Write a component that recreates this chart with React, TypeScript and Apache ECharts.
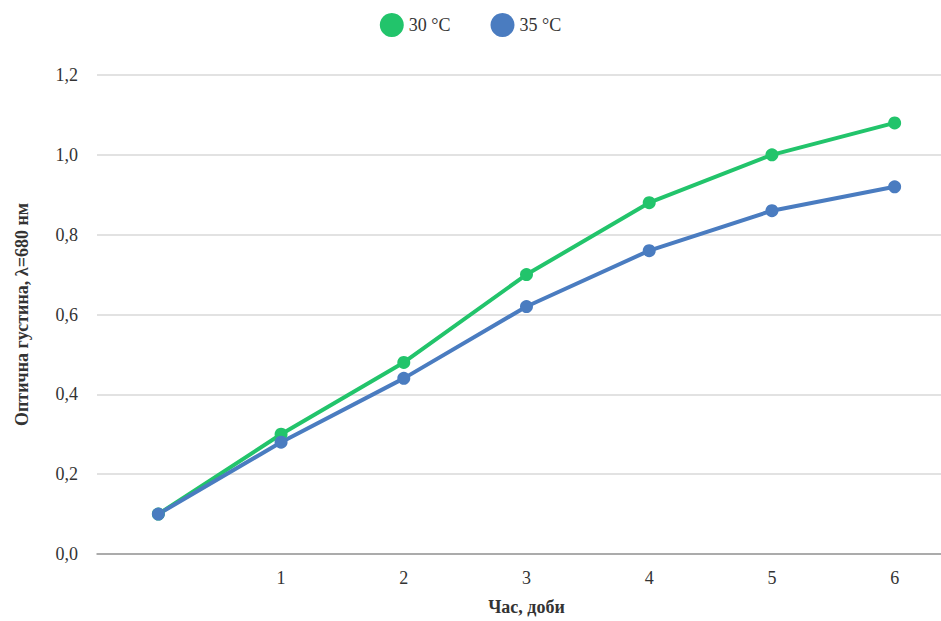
import React, { useEffect, useRef } from "react";
import * as echarts from "echarts";

const categories = ["0", "1", "2", "3", "4", "5", "6"];
const series30 = [0.1, 0.3, 0.48, 0.7, 0.88, 1.0, 1.08];
const series35 = [0.1, 0.28, 0.44, 0.62, 0.76, 0.86, 0.92];
const seriesNames = ["30 °C", "35 °C"];
const colors = ["#22c46b", "#4a7cc0"];

export default function App() {
  const ref = useRef<HTMLDivElement>(null);
  useEffect(() => {
    if (!ref.current) return;
    const chart = echarts.init(ref.current, null, { renderer: "svg" });
    const font = "Liberation Serif, Times New Roman, serif";
    chart.setOption({
      animation: false,
      textStyle: { fontFamily: font },
      legend: {
        top: 8,
        left: "center",
        itemWidth: 24,
        itemHeight: 24,
        itemGap: 40,
        icon: "circle",
        textStyle: { fontFamily: font, fontSize: 18, color: "#333" },
        data: seriesNames,
      },
      grid: { left: 97, top: 75, width: 859, height: 479, outerBoundsMode: "none", containLabel: false },
      xAxis: {
        type: "category",
        data: categories,
        boundaryGap: true,
        axisLine: { show: true, lineStyle: { color: "#999", width: 1.5 } },
        axisTick: { show: false },
        axisLabel: {
          fontFamily: font,
          fontSize: 18,
          color: "#333",
          margin: 15,
          formatter: (v: string) => (v === "0" ? "" : v),
        },
        name: "Час, доби",
        nameLocation: "middle",
        nameGap: 44,
        nameTextStyle: { fontFamily: font, fontSize: 18, fontWeight: "bold", color: "#333" },
      },
      yAxis: {
        type: "value",
        min: 0,
        max: 1.2,
        interval: 0.2,
        axisLine: { show: false },
        axisTick: { show: false },
        splitLine: { lineStyle: { color: "#d9d9d9", width: 1.5 } },
        axisLabel: {
          fontFamily: font,
          fontSize: 18,
          color: "#333",
          margin: 19,
          formatter: (v: number) => v.toFixed(1).replace(".", ","),
        },
        name: "Оптична густина, λ=680 нм",
        nameLocation: "middle",
        nameGap: 66,
        nameTextStyle: { fontFamily: font, fontSize: 18, fontWeight: "bold", color: "#333" },
      },
      series: [
        {
          name: seriesNames[0],
          type: "line",
          data: series30,
          symbol: "circle",
          symbolSize: 13,
          lineStyle: { width: 4, color: colors[0] },
          itemStyle: { color: colors[0] },
        },
        {
          name: seriesNames[1],
          type: "line",
          data: series35,
          symbol: "circle",
          symbolSize: 13,
          lineStyle: { width: 4, color: colors[1] },
          itemStyle: { color: colors[1] },
        },
      ],
    });
    return () => chart.dispose();
  }, []);
  return (
    <div
      ref={ref}
      style={{ position: "fixed", left: 0, top: 0, width: 941, height: 621, background: "#fff" }}
    />
  );
}
